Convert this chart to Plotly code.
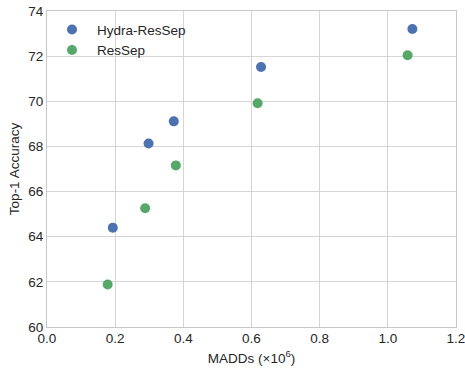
import plotly.graph_objects as go

hydra_madds = [0.193, 0.298, 0.372, 0.628, 1.072]
hydra_acc = [64.40, 68.13, 69.11, 71.52, 73.20]
ressep_madds = [0.178, 0.288, 0.378, 0.618, 1.058]
ressep_acc = [61.88, 65.26, 67.16, 69.91, 72.04]

x_ticks = [0.0, 0.2, 0.4, 0.6, 0.8, 1.0, 1.2]
y_ticks = [60, 62, 64, 66, 68, 70, 72, 74]

BLUE = "#4C72B0"
GREEN = "#55A868"
FONT = "Liberation Sans, Arial, sans-serif"
TXT = "#262626"

fig = go.Figure()
fig.add_trace(go.Scatter(x=hydra_madds, y=hydra_acc, mode="markers", name="Hydra-ResSep",
                         marker=dict(color=BLUE, size=10, line=dict(width=0))))
fig.add_trace(go.Scatter(x=ressep_madds, y=ressep_acc, mode="markers", name="ResSep",
                         marker=dict(color=GREEN, size=10, line=dict(width=0))))

axis_common = dict(showgrid=True, gridcolor="#d5d5d5", gridwidth=1, automargin=False,
                   showline=True, linecolor="#c8c8c8", linewidth=1, mirror=True,
                   zeroline=False, ticks="", ticklabeloverflow="allow",
                   tickfont=dict(family=FONT, size=13.5, color=TXT))

fig.update_xaxes(range=[0, 1.2], tickvals=x_ticks, ticktext=[f"{v:.1f}" for v in x_ticks],
                 ticklabelstandoff=-1,
                 title=dict(text="MADDs (×10<sup>6</sup>)", font=dict(family=FONT, size=13.5, color=TXT), standoff=8),
                 **axis_common)
fig.update_yaxes(range=[60, 74], tickvals=y_ticks, ticktext=[str(v) for v in y_ticks],
                 title=dict(text="Top-1 Accuracy", font=dict(family=FONT, size=13.5, color=TXT), standoff=5),
                 **axis_common)

fig.update_layout(
    width=465, height=371,
    margin=dict(l=47, r=9, t=11, b=44),
    plot_bgcolor="white", paper_bgcolor="white",
    font=dict(family=FONT, size=13.5, color=TXT),
    showlegend=True,
    legend=dict(x=0.0, y=0.99, xanchor="left", yanchor="top", bgcolor="rgba(0,0,0,0)",
                font=dict(family=FONT, size=13.5, color=TXT), itemwidth=40),
)

fig.write_html("out.html", config={"displayModeBar": False},
               post_script="document.body.style.margin='0';")
